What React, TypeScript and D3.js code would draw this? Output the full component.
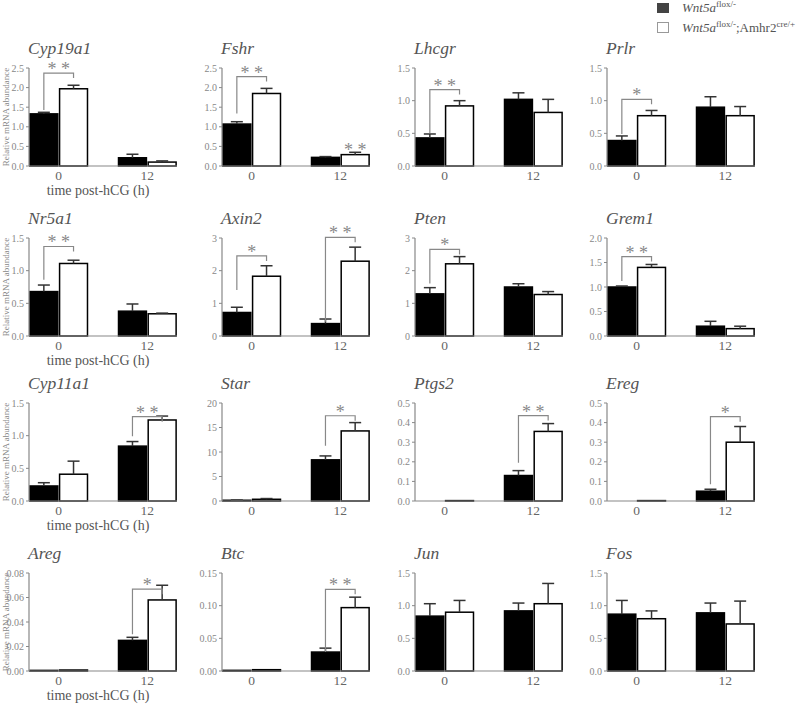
import React from 'react';
import * as d3 from 'd3';

const genes = ['Cyp19a1', 'Fshr', 'Lhcgr', 'Prlr', 'Nr5a1', 'Axin2', 'Pten', 'Grem1', 'Cyp11a1', 'Star', 'Ptgs2', 'Ereg', 'Areg', 'Btc', 'Jun', 'Fos'];
const timepoints = ['0', '12'];

// Wnt5a flox/- (black)
const ctrlMean = [
  [1.33, 0.21], [1.07, 0.22], [0.43, 1.02], [0.39, 0.90],
  [0.68, 0.38], [0.72, 0.38], [1.29, 1.50], [1.00, 0.20],
  [0.23, 0.84], [0.15, 8.4], [0.0, 0.13], [0.0, 0.05],
  [0.0005, 0.025], [0.001, 0.029], [0.84, 0.92], [0.87, 0.89],
];
const ctrlSem = [
  [0.04, 0.09], [0.06, 0.02], [0.06, 0.10], [0.07, 0.16],
  [0.10, 0.11], [0.16, 0.14], [0.19, 0.10], [0.02, 0.10],
  [0.05, 0.07], [0.05, 0.8], [0.0, 0.025], [0.0, 0.01],
  [0.0, 0.0025], [0.0, 0.006], [0.19, 0.12], [0.21, 0.15],
];
// Wnt5a flox/-;Amhr2 cre/+ (white)
const mutMean = [
  [1.97, 0.10], [1.85, 0.29], [0.92, 0.82], [0.77, 0.77],
  [1.11, 0.34], [1.83, 2.29], [2.21, 1.27], [1.40, 0.15],
  [0.41, 1.24], [0.35, 14.3], [0.002, 0.355], [0.002, 0.30],
  [0.0008, 0.058], [0.002, 0.097], [0.90, 1.03], [0.80, 0.72],
];
const mutSem = [
  [0.09, 0.03], [0.13, 0.06], [0.08, 0.20], [0.08, 0.14],
  [0.05, 0.01], [0.32, 0.43], [0.22, 0.09], [0.06, 0.05],
  [0.20, 0.06], [0.15, 1.7], [0.0, 0.04], [0.0, 0.08],
  [0.0, 0.012], [0.0, 0.016], [0.18, 0.31], [0.12, 0.35],
];

const yTickValues = [
  [0, 0.5, 1, 1.5, 2, 2.5], [0, 0.5, 1, 1.5, 2, 2.5], [0, 0.5, 1, 1.5], [0, 0.5, 1, 1.5],
  [0, 0.5, 1, 1.5], [0, 1, 2, 3], [0, 1, 2, 3], [0, 0.5, 1, 1.5, 2],
  [0, 0.5, 1, 1.5], [0, 5, 10, 15, 20], [0, 0.1, 0.2, 0.3, 0.4, 0.5], [0, 0.1, 0.2, 0.3, 0.4, 0.5],
  [0, 0.02, 0.04, 0.06, 0.08], [0, 0.05, 0.1, 0.15], [0, 0.5, 1, 1.5], [0, 0.5, 1, 1.5],
];
const yTickDecimals = [1, 1, 1, 1, 1, 0, 0, 1, 1, 0, 1, 1, 2, 2, 1, 1];

// significance brackets (levels in data units)
const brackets = [
  { gene: 'Cyp19a1', group: '0', level: 2.37, start: 1.43, label: '**' },
  { gene: 'Fshr', group: '0', level: 2.28, start: 1.34, label: '**' },
  { gene: 'Lhcgr', group: '0', level: 1.17, start: 0.50, label: '**' },
  { gene: 'Prlr', group: '0', level: 1.02, start: 0.49, label: '*' },
  { gene: 'Nr5a1', group: '0', level: 1.37, start: 0.86, label: '**' },
  { gene: 'Axin2', group: '0', level: 2.45, start: 1.41, label: '*' },
  { gene: 'Axin2', group: '12', level: 3.02, start: 0.44, label: '**' },
  { gene: 'Pten', group: '0', level: 2.65, start: 1.61, label: '*' },
  { gene: 'Grem1', group: '0', level: 1.62, start: 1.12, label: '**' },
  { gene: 'Cyp11a1', group: '12', level: 1.29, start: 0.99, label: '**' },
  { gene: 'Star', group: '12', level: 17.4, start: 11.3, label: '*' },
  { gene: 'Ptgs2', group: '12', level: 0.436, start: 0.195, label: '**' },
  { gene: 'Ereg', group: '12', level: 0.43, start: 0.086, label: '*' },
  { gene: 'Areg', group: '12', level: 0.0668, start: 0.030, label: '*' },
  { gene: 'Btc', group: '12', level: 0.125, start: 0.029, label: '**' },
];
const singleMarks = [{ gene: 'Fshr', group: '12', label: '**' }];

const seriesKeys = ['ctrl', 'mut'];
const yAxisTitle = 'Relative mRNA abundance';
const xAxisTitle = 'time post-hCG (h)';

const colX = [29, 222, 415, 607];
const rowTop = [68, 238, 403, 573];
const plotW = 148;
const plotH = 98;
const FONT = 'Liberation Serif, Times New Roman, serif';

function starText(label: string) {
  return label.split('').join(' ');
}

function Panel({ i }: { i: number }) {
  const col = i % 4;
  const row = Math.floor(i / 4);
  const x0 = colX[col];
  const top = rowTop[row];
  const bottom = top + plotH;
  const ticks = yTickValues[i];
  const yMax = ticks[ticks.length - 1];
  const y = d3.scaleLinear().domain([0, yMax]).range([bottom, top]);
  const xg = d3.scaleBand().domain(timepoints).range([x0, x0 + plotW]).paddingInner(0.35).paddingOuter(0.01);
  const xs = d3.scaleBand().domain(seriesKeys).range([0, xg.bandwidth()]).paddingInner(0.06);
  const fmt = d3.format(`.${yTickDecimals[i]}f`);
  const gene = genes[i];
  const bw = xs.bandwidth();
  const center = (g: string, s: string) => (xg(g) as number) + (xs(s) as number) + bw / 2;

  const bars: any[] = [];
  timepoints.forEach((g, gi) => {
    seriesKeys.forEach((s) => {
      const mean = s === 'ctrl' ? ctrlMean[i][gi] : mutMean[i][gi];
      const sem = s === 'ctrl' ? ctrlSem[i][gi] : mutSem[i][gi];
      bars.push({ g, s, mean, sem });
    });
  });

  return (
    <g>
      <text x={x0 - 1} y={top - 14} fontFamily={FONT} fontStyle="italic" fontSize={17.5} fill="#555">{gene}</text>
      {bars.map((b, k) => {
        const bx = (xg(b.g) as number) + (xs(b.s) as number);
        const by = y(b.mean);
        return (
          <rect key={k} x={bx} y={by} width={bw} height={Math.max(0, bottom - by)}
            fill={b.s === 'ctrl' ? '#000' : '#fff'} stroke="#000" strokeWidth={1.5} />
        );
      })}
      {bars.filter((b) => b.sem > 0).map((b, k) => {
        const cx = center(b.g, b.s);
        return (
          <g key={'e' + k} stroke="#333" strokeWidth={1.5}>
            <line x1={cx} x2={cx} y1={y(b.mean)} y2={y(b.mean + b.sem)} />
            <line x1={cx - 6} x2={cx + 6} y1={y(b.mean + b.sem)} y2={y(b.mean + b.sem)} />
          </g>
        );
      })}
      <line x1={x0} x2={x0} y1={top} y2={bottom} stroke="#888" strokeWidth={1.2} />
      <line x1={x0} x2={x0 + plotW} y1={bottom} y2={bottom} stroke="#888" strokeWidth={1.2} />
      {ticks.map((t) => (
        <g key={'t' + t}>
          <line x1={x0 - 3} x2={x0} y1={y(t)} y2={y(t)} stroke="#888" strokeWidth={1} />
          <text x={x0 - 5} y={y(t)} dy="0.35em" textAnchor="end" fontFamily={FONT} fontSize={10} fill="#888">{fmt(t)}</text>
        </g>
      ))}
      {timepoints.map((g) => (
        <text key={'x' + g} x={(xg(g) as number) + xg.bandwidth() / 2} y={bottom + 13.5} textAnchor="middle"
          fontFamily={FONT} fontSize={13.5} fill="#666">{g}</text>
      ))}
      {brackets.filter((b) => b.gene === gene).map((b, k) => {
        const lx = center(b.group, 'ctrl');
        const rx = center(b.group, 'mut');
        const ly = y(b.level);
        return (
          <g key={'b' + k}>
            <path d={`M${lx},${y(b.start)}V${ly}H${rx}V${ly + 5}`} fill="none" stroke="#888" strokeWidth={1.2} />
            <text x={(lx + rx) / 2} y={ly + 2} textAnchor="middle" fontFamily={FONT} fontSize={18} fill="#888">{starText(b.label)}</text>
          </g>
        );
      })}
      {singleMarks.filter((m) => m.gene === gene).map((m, k) => {
        const gi = timepoints.indexOf(m.group);
        const cx = center(m.group, 'mut');
        return (
          <text key={'m' + k} x={cx} y={y(mutMean[i][gi] + mutSem[i][gi]) + 4} textAnchor="middle"
            fontFamily={FONT} fontSize={18} fill="#888">{starText(m.label)}</text>
        );
      })}
      {col === 0 && (
        <>
          <text transform={`translate(9,${top + plotH / 2}) rotate(-90)`} textAnchor="middle" fontFamily={FONT}
            fontSize={9} fill="#888">{yAxisTitle}</text>
          <text x={x0 + 69} y={bottom + 29} textAnchor="middle" fontFamily={FONT} fontSize={14} fill="#555">{xAxisTitle}</text>
        </>
      )}
    </g>
  );
}

export default function App() {
  return (
    <svg width={800} height={707} style={{ position: 'absolute', left: 0, top: 0, background: '#fff' }}>
      <rect x={0} y={0} width={800} height={707} fill="#fff" />
      <rect x={657} y={3} width={12} height={10} fill="#444" />
      <text x={682} y={12} fontFamily={FONT} fontSize={13} fill="#555">
        <tspan fontStyle="italic">Wnt5a</tspan>
        <tspan fontSize={9} dy={-5}>flox/-</tspan>
      </text>
      <rect x={657.5} y={22.5} width={11} height={10} fill="#fff" stroke="#999" strokeWidth={1} />
      <text x={682} y={32} fontFamily={FONT} fontSize={13} fill="#555">
        <tspan fontStyle="italic">Wnt5a</tspan>
        <tspan fontSize={9} dy={-5}>flox/-</tspan>
        <tspan dy={5}>;Amhr2</tspan>
        <tspan fontSize={9} dy={-5}>cre/+</tspan>
      </text>
      {genes.map((g, i) => <Panel key={g} i={i} />)}
    </svg>
  );
}
